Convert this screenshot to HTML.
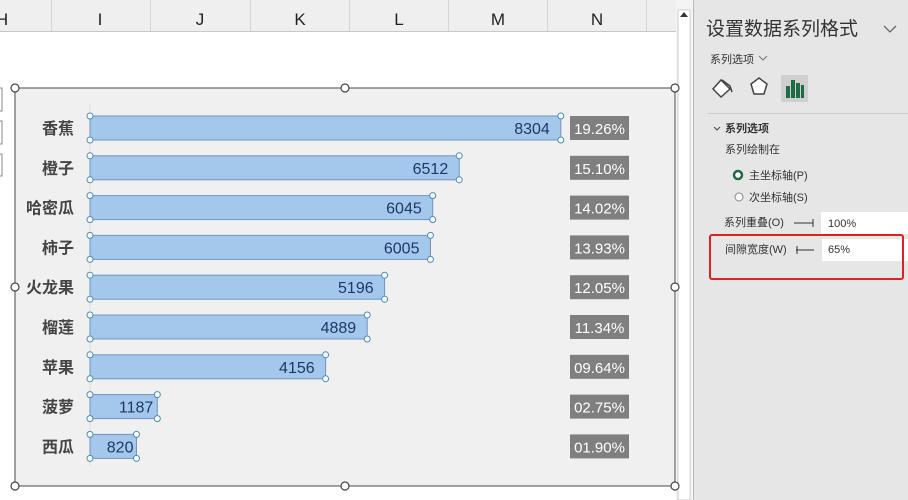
<!DOCTYPE html>
<html><head><meta charset="utf-8"><style>
html,body{margin:0;padding:0;width:908px;height:500px;overflow:hidden;background:#fff;font-family:"Liberation Sans","Noto Sans CJK SC",sans-serif;}
</style></head><body>
<svg width="908" height="500" xmlns="http://www.w3.org/2000/svg" style="position:absolute;left:0;top:0">
<!-- sheet header -->
<rect x="0" y="0" width="680" height="32" fill="#efefef"/>
<line x1="0" y1="31.5" x2="680" y2="31.5" stroke="#c8c8c8"/>
<g stroke="#d4d4d4">
<line x1="51.5" y1="0" x2="51.5" y2="31"/><line x1="150.5" y1="0" x2="150.5" y2="31"/><line x1="250.5" y1="0" x2="250.5" y2="31"/><line x1="349.5" y1="0" x2="349.5" y2="31"/><line x1="448.5" y1="0" x2="448.5" y2="31"/><line x1="547.5" y1="0" x2="547.5" y2="31"/><line x1="646.5" y1="0" x2="646.5" y2="31"/>
</g>
<g font-size="17" fill="#222" text-anchor="middle" font-family="Liberation Sans,sans-serif">
<text x="2" y="25">H</text><text x="100" y="25">I</text><text x="200" y="25">J</text><text x="300" y="25">K</text><text x="399" y="25">L</text><text x="498" y="25">M</text><text x="597" y="25">N</text>
</g>
<!-- left small boxes -->
<g fill="#fff" stroke="#888"><rect x="-3" y="88" width="5" height="23"/><rect x="-3" y="121" width="5" height="23"/><rect x="-3" y="154" width="5" height="22"/></g>
<!-- scrollbar -->
<rect x="676" y="0" width="19" height="500" fill="#f4f4f4"/>
<rect x="678" y="10" width="12" height="490" fill="#fff" stroke="#ccc"/>
<path d="M680 17 L684 12 L688 17Z" fill="#333"/>
<!-- panel -->
<rect x="693" y="0" width="215" height="500" fill="#e6e6e6"/>
<line x1="693.5" y1="0" x2="693.5" y2="500" stroke="#bbb"/>
<text x="706" y="35" font-size="19" fill="#333">设置数据系列格式</text>
<path d="M884 26 L890 32 L896 26" fill="none" stroke="#666" stroke-width="1.3"/>
<text x="710" y="63" font-size="11" fill="#333">系列选项</text>
<path d="M759 56 L763 60 L767 56" fill="none" stroke="#777"/>
<!-- icons -->
<path d="M713 89 L721 80 L730 89 L721 97Z" fill="#fff" stroke="#444" stroke-width="1.5"/>
<path d="M722 80 L730 86 L732 92" fill="none" stroke="#444" stroke-width="1.5"/>
<path d="M759 78 L767 84 L764 94 L754 94 L751 84Z" fill="#fff" stroke="#444" stroke-width="1.5"/>
<rect x="781" y="75" width="27" height="27" fill="#cfcfcf"/>
<rect x="786" y="86" width="4" height="12" fill="#1e6b45"/><rect x="791" y="80" width="4" height="18" fill="#1e6b45"/><rect x="796" y="83" width="4" height="15" fill="#1e6b45"/><rect x="801" y="85" width="3" height="13" fill="#1e6b45"/>
<line x1="708" y1="113.5" x2="908" y2="113.5" stroke="#ccc"/>
<path d="M714 127 L717 130 L720 127" fill="none" stroke="#444"/>
<text x="725" y="132" font-size="11" fill="#333" font-weight="bold">系列选项</text>
<text x="725" y="153" font-size="11" fill="#333">系列绘制在</text>
<circle cx="738" cy="175" r="4" fill="#fff" stroke="#1e6b45" stroke-width="2.5"/>
<text x="749" y="179" font-size="11" fill="#333">主坐标轴(P)</text>
<circle cx="739" cy="197" r="4" fill="#fff" stroke="#888"/>
<text x="749" y="201" font-size="11" fill="#333">次坐标轴(S)</text>
<text x="724" y="226" font-size="11" fill="#333">系列重叠(O)</text>
<line x1="794" y1="223" x2="813" y2="223" stroke="#333"/><line x1="813" y1="219" x2="813" y2="227" stroke="#333"/>
<rect x="821" y="212" width="87" height="22" fill="#fff"/>
<text x="828" y="227" font-size="11" fill="#333">100%</text>
<text x="725" y="253" font-size="11" fill="#333">间隙宽度(W)</text>
<line x1="796" y1="250" x2="814" y2="250" stroke="#333"/><line x1="797" y1="246" x2="797" y2="254" stroke="#333"/>
<rect x="822" y="239" width="86" height="22" fill="#fff"/>
<text x="828" y="253" font-size="11" fill="#333">65%</text>
<rect x="710" y="235" width="193" height="44" fill="none" stroke="#e02020" stroke-width="2" rx="2"/>
<!-- chart -->
<rect x="15" y="88" width="660" height="398" fill="#f0f0f0" stroke="#666" stroke-width="1.2"/>
<line x1="90" y1="104" x2="90" y2="466" stroke="#dcdcdc"/>
<g id="bars" font-size="16"></g>
<g fill="#fff" stroke="#444" stroke-width="1.2">
<circle cx="15" cy="88" r="4"/><circle cx="345" cy="88" r="4"/><circle cx="675" cy="88" r="4"/>
<circle cx="15" cy="287" r="4"/><circle cx="675" cy="287" r="4"/>
<circle cx="15" cy="486" r="4"/><circle cx="345" cy="486" r="4"/><circle cx="675" cy="486" r="4"/>
</g>
</svg>
<script>
var d=[["香蕉",8304,"19.26%"],["橙子",6512,"15.10%"],["哈密瓜",6045,"14.02%"],["柿子",6005,"13.93%"],["火龙果",5196,"12.05%"],["榴莲",4889,"11.34%"],["苹果",4156,"09.64%"],["菠萝",1187,"02.75%"],["西瓜",820,"01.90%"]];
var s="";
d.forEach(function(r,i){
 var y=116+39.8*i, w=r[1]*0.0567, x2=90+w;
 s+='<text x="74" y="'+(y+18)+'" text-anchor="end" font-weight="bold" fill="#444" font-family="Liberation Sans,Noto Sans CJK SC,sans-serif" font-size="16">'+r[0]+'</text>';
 s+='<rect x="90" y="'+y+'" width="'+w+'" height="24" fill="#a4c8ec" stroke="#6f95c0"/>';
 var tx = w>100 ? x2-11 : x2-(w>55?4:3);
 s+='<text x="'+tx+'" y="'+(y+18)+'" text-anchor="end" fill="#1f3864" font-size="16">'+r[1]+'</text>';
 s+='<rect x="570" y="'+y+'" width="59" height="24" fill="#7f7f7f"/>';
 s+='<text x="599.5" y="'+(y+18)+'" text-anchor="middle" fill="#fff" font-size="15">'+r[2]+'</text>';
 s+='<g fill="#fff" stroke="#4a8ac0"><circle cx="90" cy="'+y+'" r="3"/><circle cx="90" cy="'+(y+24)+'" r="3"/><circle cx="'+x2+'" cy="'+y+'" r="3"/><circle cx="'+x2+'" cy="'+(y+24)+'" r="3"/></g>';
});
document.getElementById("bars").innerHTML=s;
</script>
</body></html>
